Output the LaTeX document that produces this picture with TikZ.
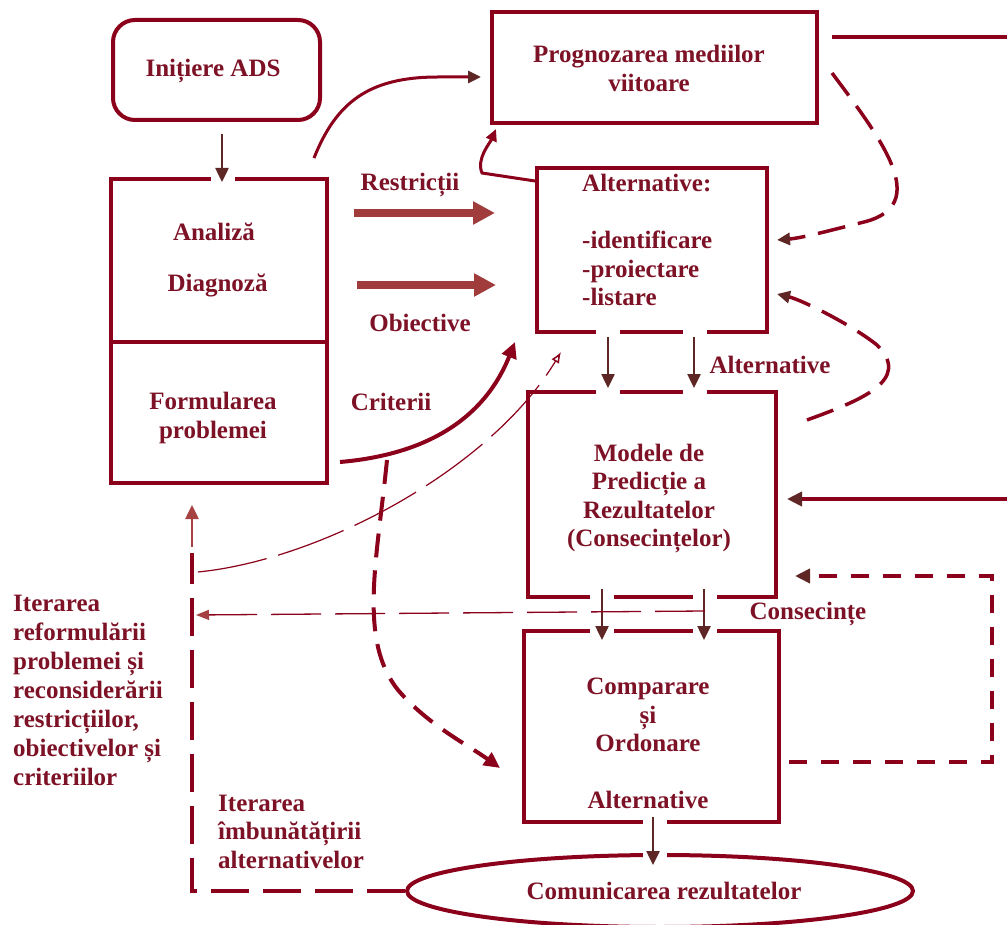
\documentclass[tikz,border=0pt]{standalone}
\usepackage{fontspec}
\setmainfont{Liberation Serif}
\usetikzlibrary{arrows.meta,calc,shapes.geometric}
\definecolor{boxc}{RGB}{139,0,26}
\definecolor{textc}{RGB}{125,18,38}
\definecolor{brownc}{RGB}{95,38,38}
\definecolor{blockc}{RGB}{160,60,60}
\definecolor{lightc}{RGB}{165,65,65}
\begin{document}
\begin{tikzpicture}[x=1pt,y=-1pt,
  box/.style={draw=boxc,line width=4pt,inner sep=0pt,rectangle},
  txt/.style={text=textc,inner sep=0pt,font=\fontsize{25pt}{28.5pt}\selectfont\bfseries},
  brownarr/.style={draw=brownc,line width=2.5pt,-{Triangle[length=14pt,width=13pt]}},
  curvearr/.style={draw=boxc,line width=3pt,-{Triangle[length=13pt,width=12pt,color=brownc]}},
  redarr/.style={draw=boxc,line width=3pt,-{Triangle[length=12pt,width=11pt]}},
  blockarr/.style={draw=blockc,line width=8pt,-{Triangle[length=22pt,width=22pt]}},
  thickarr/.style={draw=boxc,line width=4pt,-{Triangle[length=16pt,width=15pt]}},
  thinarr/.style={draw=boxc,line width=1.2pt,dash pattern=on 70pt off 12pt,-{Latex[open,length=11pt,width=9pt,line width=1.5pt]}},
  thinhz/.style={draw=boxc,line width=1.3pt,dash pattern=on 50pt off 14pt,-{Triangle[length=13pt,width=10pt,color=lightc]}},
  dashthick/.style={draw=boxc,line width=4pt,dash pattern=on 24pt off 13pt,-{Triangle[length=16pt,width=15pt]}},
  dashcurve/.style={draw=boxc,line width=3.5pt,dash pattern=on 28pt off 13pt,-{Triangle[length=13pt,width=12pt,color=brownc]}},
  dashrect/.style={draw=boxc,line width=4pt,dash pattern=on 18pt off 14pt,-{Triangle[length=15pt,width=14pt,color=brownc]}},
  solidline/.style={draw=boxc,line width=4pt},
  solidarr/.style={draw=boxc,line width=4pt,-{Triangle[length=15pt,width=14pt,color=brownc]}},
  fbdash/.style={draw=boxc,line width=4pt,dash pattern=on 38pt off 14pt},
  fbarr/.style={draw=lightc,line width=2.5pt,-{Triangle[length=14pt,width=13pt]}}]
\useasboundingbox (0,0) rectangle (1007,925);

% boxes
\node[box,rounded corners=22pt,minimum width=207pt,minimum height=100pt] (init) at (216.5,70) {};
\node[box,minimum width=216pt,minimum height=163pt] (ana) at (219,260.5) {};
\node[box,minimum width=216pt,minimum height=141pt] (form) at (219,412.5) {};
\node[box,minimum width=325pt,minimum height=111pt] (prog) at (654.5,67.5) {};
\node[box,minimum width=230pt,minimum height=164pt] (alt) at (652,250) {};
\node[box,minimum width=248pt,minimum height=205pt] (mod) at (652,494.5) {};
\node[box,minimum width=255pt,minimum height=191pt] (comp) at (651.5,726.5) {};
\node[box,ellipse,minimum width=506pt,minimum height=72pt] (comm) at (660,891) {};

% openings in the borders where the arrows pass
\foreach \gx/\gy in {223/179, 608/332, 695/332, 608/392, 695/392, 602/597, 705/597, 602/631, 705/631, 655/822, 655/855}
  \fill[white] (\gx-12,\gy-6) rectangle (\gx+12,\gy+6);

% box texts
\node[txt] (t-init) at (213,71) {Inițiere ADS};
\node[txt] (t-ana) at (214,232) {Analiză};
\node[txt] (t-diag) at (217.5,285) {Diagnoză};
\node[txt,align=center] (t-form) at (213,418) {Formularea\\problemei};
\node[txt,align=center] (t-prog) at (649,68.5) {Prognozarea mediilor\\viitoare};
\node[txt,align=left,anchor=west] (t-alt) at (582,240) {Alternative:\\[28.5pt]-identificare\\-proiectare\\-listare};
\node[txt,align=center] (t-mod) at (649,498.5) {Modele de\\Predicție a\\Rezultatelor\\(Consecințelor)};
\node[txt,align=center] (t-comp) at (648,743.5) {Comparare\\și\\Ordonare\\[28.5pt]Alternative};
\node[txt] (t-comm) at (664,891) {Comunicarea rezultatelor};

% connector labels
\node[txt] (l-restr) at (410,185) {Restricții};
\node[txt] (l-obj) at (420,323) {Obiective};
\node[txt] (l-crit) at (391,402) {Criterii};
\node[txt] (l-alt) at (770,365) {Alternative};
\node[txt] (l-cons) at (808,614) {Consecințe};
\node[txt,font=\fontsize{25pt}{29pt}\selectfont\bfseries,align=left,anchor=west] (l-iter1) at (13,690)
  {Iterarea\\reformulării\\problemei și\\reconsiderării\\restricțiilor,\\obiectivelor și\\criteriilor};
\node[txt,align=left,anchor=west] (l-iter2) at (218,831.5) {Iterarea\\îmbunătățirii\\alternativelor};

% free ends
\coordinate (rtop) at (1007,37);
\coordinate (rmid) at (1007,499);
\coordinate (fbtop) at (192,553);
\coordinate (thinstart) at (198,572);

% main flow
\draw[brownarr] ($(init.south)+(5.5,12)$) -- ($(ana.north)+(3,5)$);
\draw[curvearr] ($(ana.north east)+(-15,-19)$) .. controls +(22,-55) and +(-70,0) .. ($(prog.west)+(-52,9.5)$) -- ($(prog.west)+(-9,9.5)$);
\draw[redarr] ($(alt.north west)+(0,15)$) -- ($(alt.north west)+(-53,7)$) .. controls +(-6,-14) and +(-6,14) .. ($(prog.south west)+(6,4)$);
\draw[blockarr] ($(ana.east)+(25,-47.5)$) -- ($(alt.west)+(-40,-37)$);
\draw[blockarr] ($(ana.east)+(28,24.5)$) -- ($(alt.west)+(-39,35)$);
\draw[thickarr] ($(form.east)+(11,49.5)$) .. controls +(82,-7) and +(-32,80) .. ($(alt.south west)+(-20,8)$);

\draw[brownarr] ($(alt.south)+(-44,3)$) -- ($(mod.north)+(-44,-2)$);
\draw[brownarr] ($(alt.south)+(42,3)$) -- ($(mod.north)+(42,-2)$);
\draw[brownarr] ($(mod.south)+(-50,-10)$) -- ($(comp.north)+(-49.5,11)$);
\draw[brownarr] ($(mod.south)+(52,-10)$) -- ($(comp.north)+(52.5,11)$);
\draw[brownarr] ($(comp.south)+(1.5,-7)$) -- ($(comm.north)+(-7,12)$);

% right side inputs
\draw[solidline] ($(prog.east)+(13,-30.5)$) -- (rtop);
\draw[solidarr] (rmid) -- ($(mod.east)+(9,4.5)$);
\draw[dashcurve] ($(prog.east)+(13,5.5)$) .. controls +(50,67) and +(68,-17) .. ($(prog.east)+(45,154.5)$)
  .. controls +(-32,8) and +(25,-2) .. ($(alt.east)+(8,-10)$);
\draw[dashcurve] ($(mod.east)+(29,-74.5)$) .. controls +(55,-20) and +(35,35) .. ($(mod.east)+(99,-149.5)$)
  .. controls +(-25,-20) and +(25,6) .. ($(alt.east)+(8,44)$);
\draw[dashrect] ($(comp.east)+(8,35.5)$) -| ($(mod.east)+(214,81.5)$) -- ($(mod.east)+(17,81.5)$);

% iteration loops
\draw[thinarr] (thinstart) .. controls (320,560) and (490,470) .. ($(mod.north west)+(35,-38)$);
\draw[thinhz] ($(comp.north)+(53.5,-18)$) -- ($(form.south west)+(87,130)$);
\draw[dashthick] ($(form.east)+(58,47.5)$) .. controls +(-10,100) and +(-40,-50) .. ($(comp.west)+(-124,-36.5)$)
  .. controls +(30,35) and +(-32,-23) .. ($(comp.west)+(-22,41.5)$);
\draw[fbdash] (comm.west) -- (comm.west -| fbtop) -- (fbtop);
\draw[fbarr] ($(fbtop)+(0,-6)$) -- ($(form.south)+(-27,20)$);
\end{tikzpicture}
\end{document}
